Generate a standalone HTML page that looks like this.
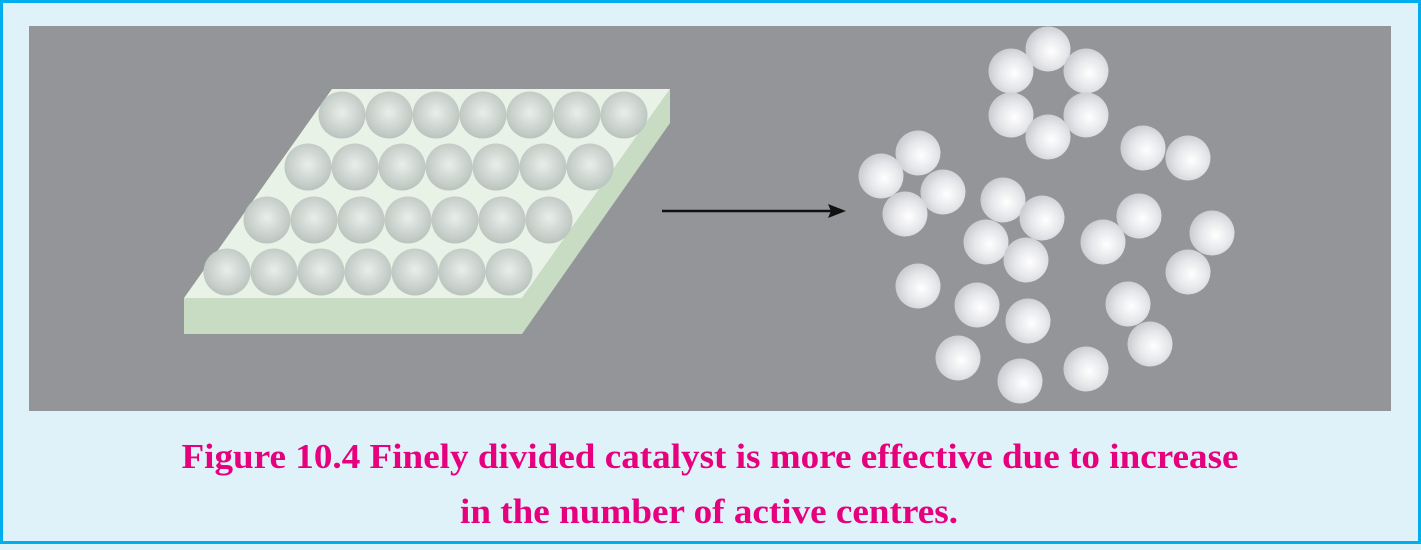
<!DOCTYPE html>
<html><head><meta charset="utf-8"><style>
html,body{margin:0;padding:0;background:#e0f2f9;}
svg{display:block;}
</style></head><body>
<svg width="1421" height="550" viewBox="0 0 1421 550">
<defs>
<radialGradient id="gs" cx="0.5" cy="0.45" r="0.55">
<stop offset="0" stop-color="#e9eee9"/><stop offset="0.7" stop-color="#c9d1cc"/><stop offset="1" stop-color="#b9c3be"/>
</radialGradient>
<radialGradient id="gw" cx="0.58" cy="0.55" r="0.6">
<stop offset="0" stop-color="#ffffff"/><stop offset="0.55" stop-color="#e6e7ea"/><stop offset="1" stop-color="#c8cacf"/>
</radialGradient>
</defs>
<rect x="1.5" y="1.5" width="1418" height="541" fill="#e0f2f9" stroke="#00aeef" stroke-width="3"/>
<rect x="29" y="26" width="1362" height="385" fill="#939598"/>
<g>
<polygon points="184,298 522,298 522,334 184,334" fill="#c8dcc3"/>
<polygon points="522,298 670,89 670,123 522,334" fill="#c8dcc3"/>
<polygon points="332,89 670,89 522,298 184,298" fill="#e9f2e7"/>
</g>
<g id="slabSpheres"></g>
<g>
<line x1="662" y1="211" x2="832" y2="211" stroke="#111" stroke-width="2.5"/>
<polygon points="846,211 828,204 831,211 828,218" fill="#111"/>
</g>
<g id="freeSpheres"></g>
<text x="710" y="468" text-anchor="middle" textLength="1057" lengthAdjust="spacingAndGlyphs" font-family="'Liberation Serif',serif" font-weight="bold" font-size="35" fill="#e6007e">Figure 10.4 Finely divided catalyst is more effective due to increase</text>
<text x="709" y="523" text-anchor="middle" textLength="498" lengthAdjust="spacingAndGlyphs" font-family="'Liberation Serif',serif" font-weight="bold" font-size="35" fill="#e6007e">in the number of active centres.</text>
</svg>
<script>
const NS='http://www.w3.org/2000/svg';
const rowY=[115,167,220,272];
const rowX0=[342,308,267,227];
const freeX=[1048,1011,1086,1011,1086,1048,1143,1188,918,881,943,905,1003,1042,986,1026,1103,1139,1212,1188,918,977,1028,1128,1150,958,1020,1086];
const freeY=[49,71,71,115,115,137,148,158,153,176,192,214,200,218,242,260,242,216,233,272,286,305,321,304,344,358,381,369];
const slab=document.getElementById('slabSpheres');
for(let r=0;r<4;r++)for(let i=0;i<7;i++){
 const c=document.createElementNS(NS,'circle');
 c.setAttribute('cx',rowX0[r]+i*47);c.setAttribute('cy',rowY[r]);c.setAttribute('r',23.5);
 c.setAttribute('fill','url(#gs)');
 
 
 slab.appendChild(c);
}
const free=document.getElementById('freeSpheres');
for(let i=0;i<freeX.length;i++){
 const c=document.createElementNS(NS,'circle');
 c.setAttribute('cx',freeX[i]);c.setAttribute('cy',freeY[i]);c.setAttribute('r',22.5);
 c.setAttribute('fill','url(#gw)');
 
 
 free.appendChild(c);
}
</script>
</body></html>
